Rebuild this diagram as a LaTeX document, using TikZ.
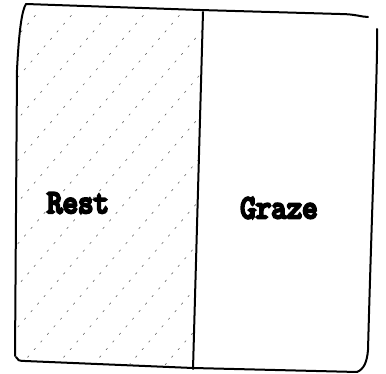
\documentclass[tikz,border=0pt]{standalone}
\usepackage{fontspec}
\newfontfamily\monob[FakeBold=8]{Latin Modern Mono}
\tikzset{
  outline/.style={line width=2pt, line cap=round, line join=round, black},
  hatch/.style={line width=0.6pt, black!60, dash pattern=on 2pt off 8pt, line cap=round},
  label/.style={font=\monob\fontsize{30}{30}\selectfont, inner sep=0pt}
}
\begin{document}
\begin{tikzpicture}[x=1pt,y=-1pt]
\useasboundingbox (0,0) rectangle (386,374);
% hatching in left panel
\begin{scope}
\clip (18,6) -- (202,12) -- (193,366) -- (16,360) -- cycle;
\foreach \k in {-10,...,8}{
  \draw[hatch] (-100+\k*36,380) -- ++(320,-370);
}
\end{scope}
% outline
\coordinate (tl) at (26,4);
\draw[outline] (tl) -- (200,10) -- (340,14) .. controls (355,14) and (362,17) .. (368,17);
\draw[outline] (377,29) .. controls (378,60) and (372,200) .. (368,350) .. controls (367,362) and (364,369) .. (357,372);
\draw[outline] (16,357) .. controls (17,360) and (19,361) .. (25,361) -- (193,368) -- (357,372);
\draw[outline] (tl) .. controls (22,10) and (19,30) .. (17,70) -- (15,356);
\coordinate (dt) at (203,12);
\coordinate (db) at (193,369);
\draw[outline] (dt) -- (db);
\node[label] (rest) at (78,203) {\scalebox{1}[1.1]{Rest}};
\node[label] (graze) at (279,208) {\scalebox{1}[1.1]{Graze}};
\end{tikzpicture}
\end{document}
